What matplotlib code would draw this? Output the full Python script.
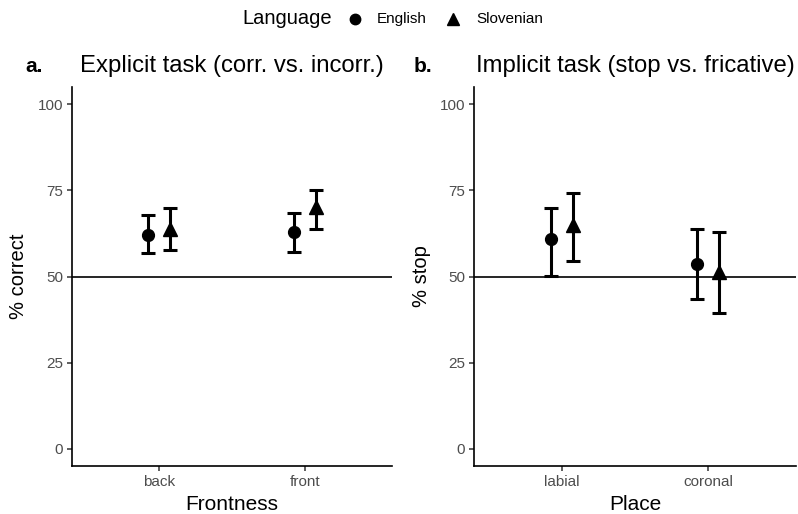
import matplotlib
matplotlib.use("Agg")
import matplotlib.pyplot as plt
from matplotlib.lines import Line2D
import numpy as np

plt.rcParams['font.family'] = ['Liberation Sans', 'DejaVu Sans']

languages = ["English", "Slovenian"]
markers = ["o", "^"]

# Panel a: Explicit task
frontness = ["back", "front"]
a_mean = {"English": [62.0, 62.9], "Slovenian": [63.8, 70.1]}
a_low = {"English": [56.8, 57.1], "Slovenian": [57.7, 63.8]}
a_high = {"English": [67.8, 68.4], "Slovenian": [69.9, 75.1]}

# Panel b: Implicit task
place = ["labial", "coronal"]
b_mean = {"English": [60.8, 53.5], "Slovenian": [64.9, 51.4]}
b_low = {"English": [50.2, 43.4], "Slovenian": [54.6, 39.5]}
b_high = {"English": [70.0, 63.7], "Slovenian": [74.1, 63.0]}

W, H = 798, 514
fig = plt.figure(figsize=(W/100, H/100), dpi=100)

def fx(px):
    return px / W

def fy(py):
    return 1 - py / H

def px_axes(l, r, t, b):
    return fig.add_axes([l/W, 1 - b/H, (r-l)/W, (b-t)/H])

axA = px_axes(72, 392, 87, 466)
axB = px_axes(474, 796, 87, 466)

def draw(ax, cats, mean, low, high, xlabel, ylabel, title, tag, ylab_x, tag_x):
    x = np.arange(1, len(cats)+1)
    offs = [-0.075, 0.075]
    ax.axhline(50, color='black', lw=1.2, zorder=1)
    for lang, m, o in zip(languages, markers, offs):
        mu = np.array(mean[lang]); lo = np.array(low[lang]); hi = np.array(high[lang])
        ax.errorbar(x + o, mu, yerr=[mu - lo, hi - mu], fmt='none', ecolor='black',
                    elinewidth=2.2, capsize=5, capthick=2.2, zorder=2)
        ax.plot(x + o, mu, linestyle='none', marker=m, color='black',
                markersize=8.5 if m == 'o' else 9.5, zorder=3)
    ax.set_xlim(0.4, len(cats) + 0.6)
    ax.set_ylim(-5, 105)
    ax.set_xticks(x)
    ax.set_xticklabels(cats)
    ax.set_yticks([0, 25, 50, 75, 100])
    for s in ['top', 'right']:
        ax.spines[s].set_visible(False)
    for s in ['left', 'bottom']:
        ax.spines[s].set_linewidth(1.2)
        ax.spines[s].set_color('black')
    ax.tick_params(axis='both', colors='#333333', labelcolor='#4D4D4D',
                   labelsize=11, length=3.5, width=1.1, pad=3)
    pos = ax.get_position()
    cx = (pos.x0 + pos.x1) / 2
    cy = (pos.y0 + pos.y1) / 2
    fig.text(cx, fy(510), xlabel, fontsize=15, ha='center', va='baseline')
    fig.text(fx(ylab_x), cy, ylabel, fontsize=14.5, ha='center', va='center',
             rotation=90)
    fig.text(cx, fy(72), title, fontsize=17.2, ha='center', va='baseline')
    fig.text(fx(tag_x), fy(72), tag, fontsize=15, fontweight='bold',
             ha='left', va='baseline')

draw(axA, frontness, a_mean, a_low, a_high, "Frontness", "% correct",
     "Explicit task (corr. vs. incorr.)", "a.", 18, 25)
draw(axB, place, b_mean, b_low, b_high, "Place", "% stop",
     "Implicit task (stop vs. fricative)", "b.", 421, 414)

# Legend (drawn manually at top)
ly = fy(19)
fig.text(fx(287), ly, "Language", fontsize=14.5, ha='center', va='center')
fig.add_artist(Line2D([fx(355)], [ly], marker='o', color='black',
                      markersize=7.5, linestyle='none', transform=fig.transFigure))
fig.text(fx(377), ly, "English", fontsize=11, ha='left', va='center')
fig.add_artist(Line2D([fx(453)], [ly], marker='^', color='black',
                      markersize=8, linestyle='none', transform=fig.transFigure))
fig.text(fx(476), ly, "Slovenian", fontsize=11, ha='left', va='center')

fig.savefig("out.png", dpi=100)
